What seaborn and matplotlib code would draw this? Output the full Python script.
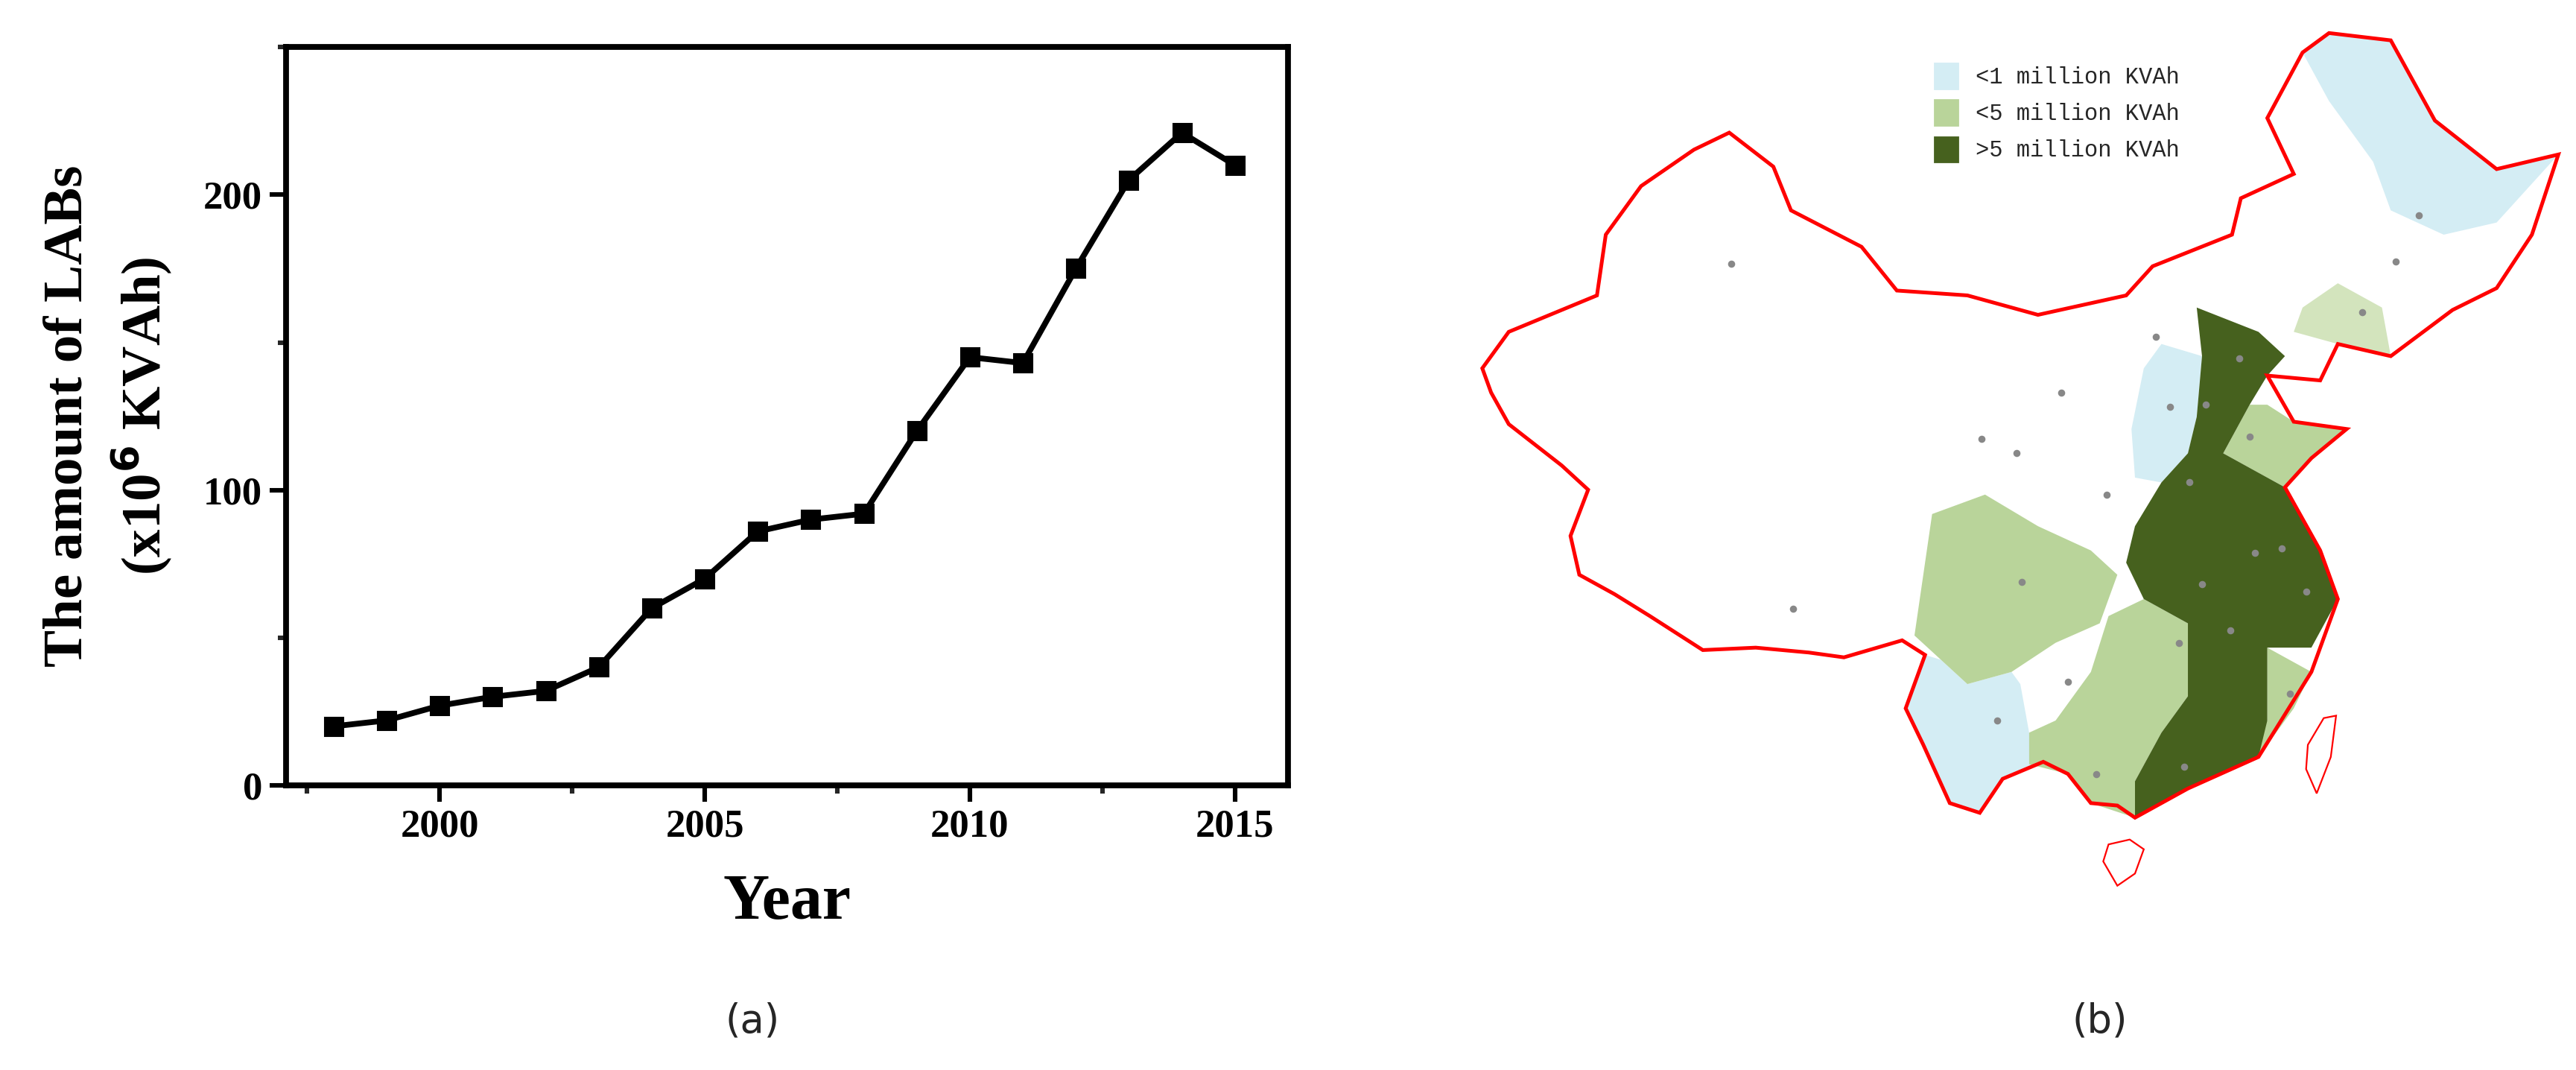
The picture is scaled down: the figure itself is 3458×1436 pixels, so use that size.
import matplotlib
matplotlib.use("Agg")
import matplotlib.pyplot as plt
import seaborn as sns
import pandas as pd
from matplotlib.patches import Polygon, Patch

years = [1998,1999,2000,2001,2002,2003,2004,2005,2006,2007,2008,2009,2010,2011,2012,2013,2014,2015]
labs = [20,22,27,30,32,40,60,70,86,90,92,120,145,143,175,205,221,210]

china = [(73.5,39.5),(75,41),(80,42.5),(80.5,45),(82.5,47),(85.5,48.5),(87.5,49.2),(90,47.8),(91,46),(95,44.5),(97,42.7),(101,42.5),(105,41.7),(110,42.5),(111.5,43.7),(116,45),(116.5,46.5),(119.5,47.5),(118,49.8),(120,52.5),(121.5,53.3),(125,53),(127.5,49.7),(131,47.7),(134.5,48.3),(133,45),(131,42.8),(128.5,41.9),(125,40),(122,40.5),(121,39),(118,39.2),(119.5,37.3),(122.5,37),(120.5,35.8),(119,34.6),(121,32),(122,30),(120.5,27),(117.5,23.5),(113.5,22.2),(110.5,21),(109.5,21.5),(108,21.6),(106.7,22.8),(105.3,23.3),(103,22.6),(101.7,21.2),(100,21.6),(98.5,24),(97.5,25.5),(98.6,27.7),(97.3,28.3),(94,27.6),(92,27.8),(89,28),(86,27.9),(83,29.3),(81,30.2),(79,31),(78.5,32.6),(79.5,34.5),(78,35.5),(75,37.2),(74,38.5)]
dark = [(114,42),(117.5,41),(119,40),(118,39.2),(117,38),(115.5,36),(118,35),(119,34.6),(121,32),(122,30),(120.5,28),(118,28),(118,25),(117.5,23.5),(113.5,22.2),(110.5,21),(110.5,22.5),(112,24.5),(113.5,26),(113.5,29),(111,30),(110,31.5),(110.5,33),(112,34.8),(113.5,36),(114,37.5),(114.3,40)]
light_green = [
    [(98,28.5),(99,33.5),(102,34.3),(105,33),(108,32),(109.5,31),(108.5,29),(106,28.2),(103.5,27),(101,26.5),(99.5,27.5)],
    [(104.5,23.2),(106.7,22.8),(108,21.6),(110.5,21),(110.5,22.5),(112,24.5),(113.5,26),(113.5,29),(111,30),(109,29.3),(108,27),(106,25),(104.5,24.5)],
    [(118,28),(120.5,27),(119.5,25.5),(117.5,23.5),(117,24),(118,25)],
    [(115.5,36),(117,38),(118,38),(119.5,37.3),(122.5,37),(120.5,35.8),(119,34.6),(118,35)],
]
pale_green = [[(119.5,41),(122,40.5),(125,40),(124.5,42),(122,43),(120,42)]]
light_blue = [
    [(121.5,53.3),(125,53),(127.5,49.7),(131,47.7),(134.5,48.3),(131,45.5),(128,45),(125,46),(124,48),(121.5,50.5),(120,52.5)],
    [(98.5,24),(100,21.6),(101.7,21.2),(103,22.6),(105.3,23.3),(104.5,24.5),(104,26.5),(103.5,27),(101,26.5),(99.5,27.5),(98.6,27.7),(97.5,25.5)],
    [(110.5,35),(110.3,37),(111,39.5),(112,40.5),(114.3,40),(114,37.5),(113.5,36),(112,34.8)],
]
hainan = [(108.7,19.2),(109.5,18.2),(110.5,18.7),(111,19.7),(110.2,20.1),(109,19.9)]
taiwan = [(120.2,23),(120.8,22),(121.6,23.5),(121.9,25.2),(121.2,25.1),(120.3,24)]
cities = [(87.6,43.8),(91.1,29.6),(101.8,36.6),(103.8,36),(106.3,38.5),(111.7,40.8),(108.9,34.3),(104.1,30.7),(102.7,25),(106.7,26.6),(108.3,22.8),(113.3,23.1),(119.3,26.1),(115.9,28.7),(113,28.2),(114.3,30.6),(113.6,34.8),(117.3,31.9),(118.8,32.1),(120.2,30.3),(117,36.7),(114.5,38),(112.5,37.9),(116.4,39.9),(123.4,41.8),(125.3,43.9),(126.6,45.8)]

sns.set_theme(style="white")
plt.rcParams['font.family'] = ['Liberation Serif', 'DejaVu Serif']

fig = plt.figure(figsize=(17.29, 7.18), dpi=200)
ax = fig.add_axes([0.111, 0.266, 0.389, 0.69])
df = pd.DataFrame({"Year": years, "LABs": labs})
sns.lineplot(data=df, x="Year", y="LABs", ax=ax, color="black", lw=2.8, marker="s", markersize=9, markeredgecolor="black")
ax.set_xlim(1997.1, 2016.0)
ax.set_ylim(0, 250)
ax.set_xticks([2000, 2005, 2010, 2015])
ax.set_xticks([1997.5, 2002.5, 2007.5, 2012.5], minor=True)
ax.set_yticks([0, 100, 200])
ax.set_yticks([50, 150, 250], minor=True)
for s in ax.spines.values():
    s.set_linewidth(2.8); s.set_color("black")
ax.tick_params(which="major", direction="out", length=8, width=2.2, labelsize=19, bottom=True, left=True, colors="black")
ax.tick_params(which="minor", direction="out", length=4, width=2.2, bottom=True, left=True)
for t in ax.get_xticklabels() + ax.get_yticklabels():
    t.set_fontweight("bold")
ax.set_xlabel("Year", fontsize=31, fontweight="bold", labelpad=14, color="black")
ax.set_ylabel("The amount of LABs\n(x10$^{\\mathbf{6}}$ KVAh)", fontsize=27, fontweight="bold", labelpad=14, color="black", linespacing=1.3)
fig.text(0.292, 0.035, "(a)", fontsize=19, ha="center", family="DejaVu Sans")

m = fig.add_axes([0.572, 0.145, 0.428, 0.84])
m.set_xlim(73, 135.5); m.set_ylim(17, 54)
m.axis("off")
for polys, c in [(light_blue, "#d4edf4"), (light_green, "#b9d49a"), (pale_green, "#d3e4bd")]:
    for p in polys:
        m.add_patch(Polygon(p, closed=True, facecolor=c, edgecolor="none"))
m.add_patch(Polygon(dark, closed=True, facecolor="#46611e", edgecolor="none"))
m.add_patch(Polygon(china, closed=True, facecolor="none", edgecolor="red", lw=1.8))
m.add_patch(Polygon(hainan, closed=True, facecolor="none", edgecolor="red", lw=0.8))
m.add_patch(Polygon(taiwan, closed=True, facecolor="none", edgecolor="red", lw=0.8))
m.scatter([c[0] for c in cities], [c[1] for c in cities], s=6, color="#888888", zorder=5)
handles = [Patch(color="#d4edf4", label="<1 million KVAh"),
           Patch(color="#b9d49a", label="<5 million KVAh"),
           Patch(color="#46611e", label=">5 million KVAh")]
m.legend(handles=handles, loc="upper left", bbox_to_anchor=(0.4, 0.97), frameon=False,
         prop={"family": "Liberation Mono", "size": 11}, handlelength=1.0, handleheight=1.3)
fig.text(0.815, 0.035, "(b)", fontsize=19, ha="center", family="DejaVu Sans")

fig.savefig("out.png", dpi=200)
